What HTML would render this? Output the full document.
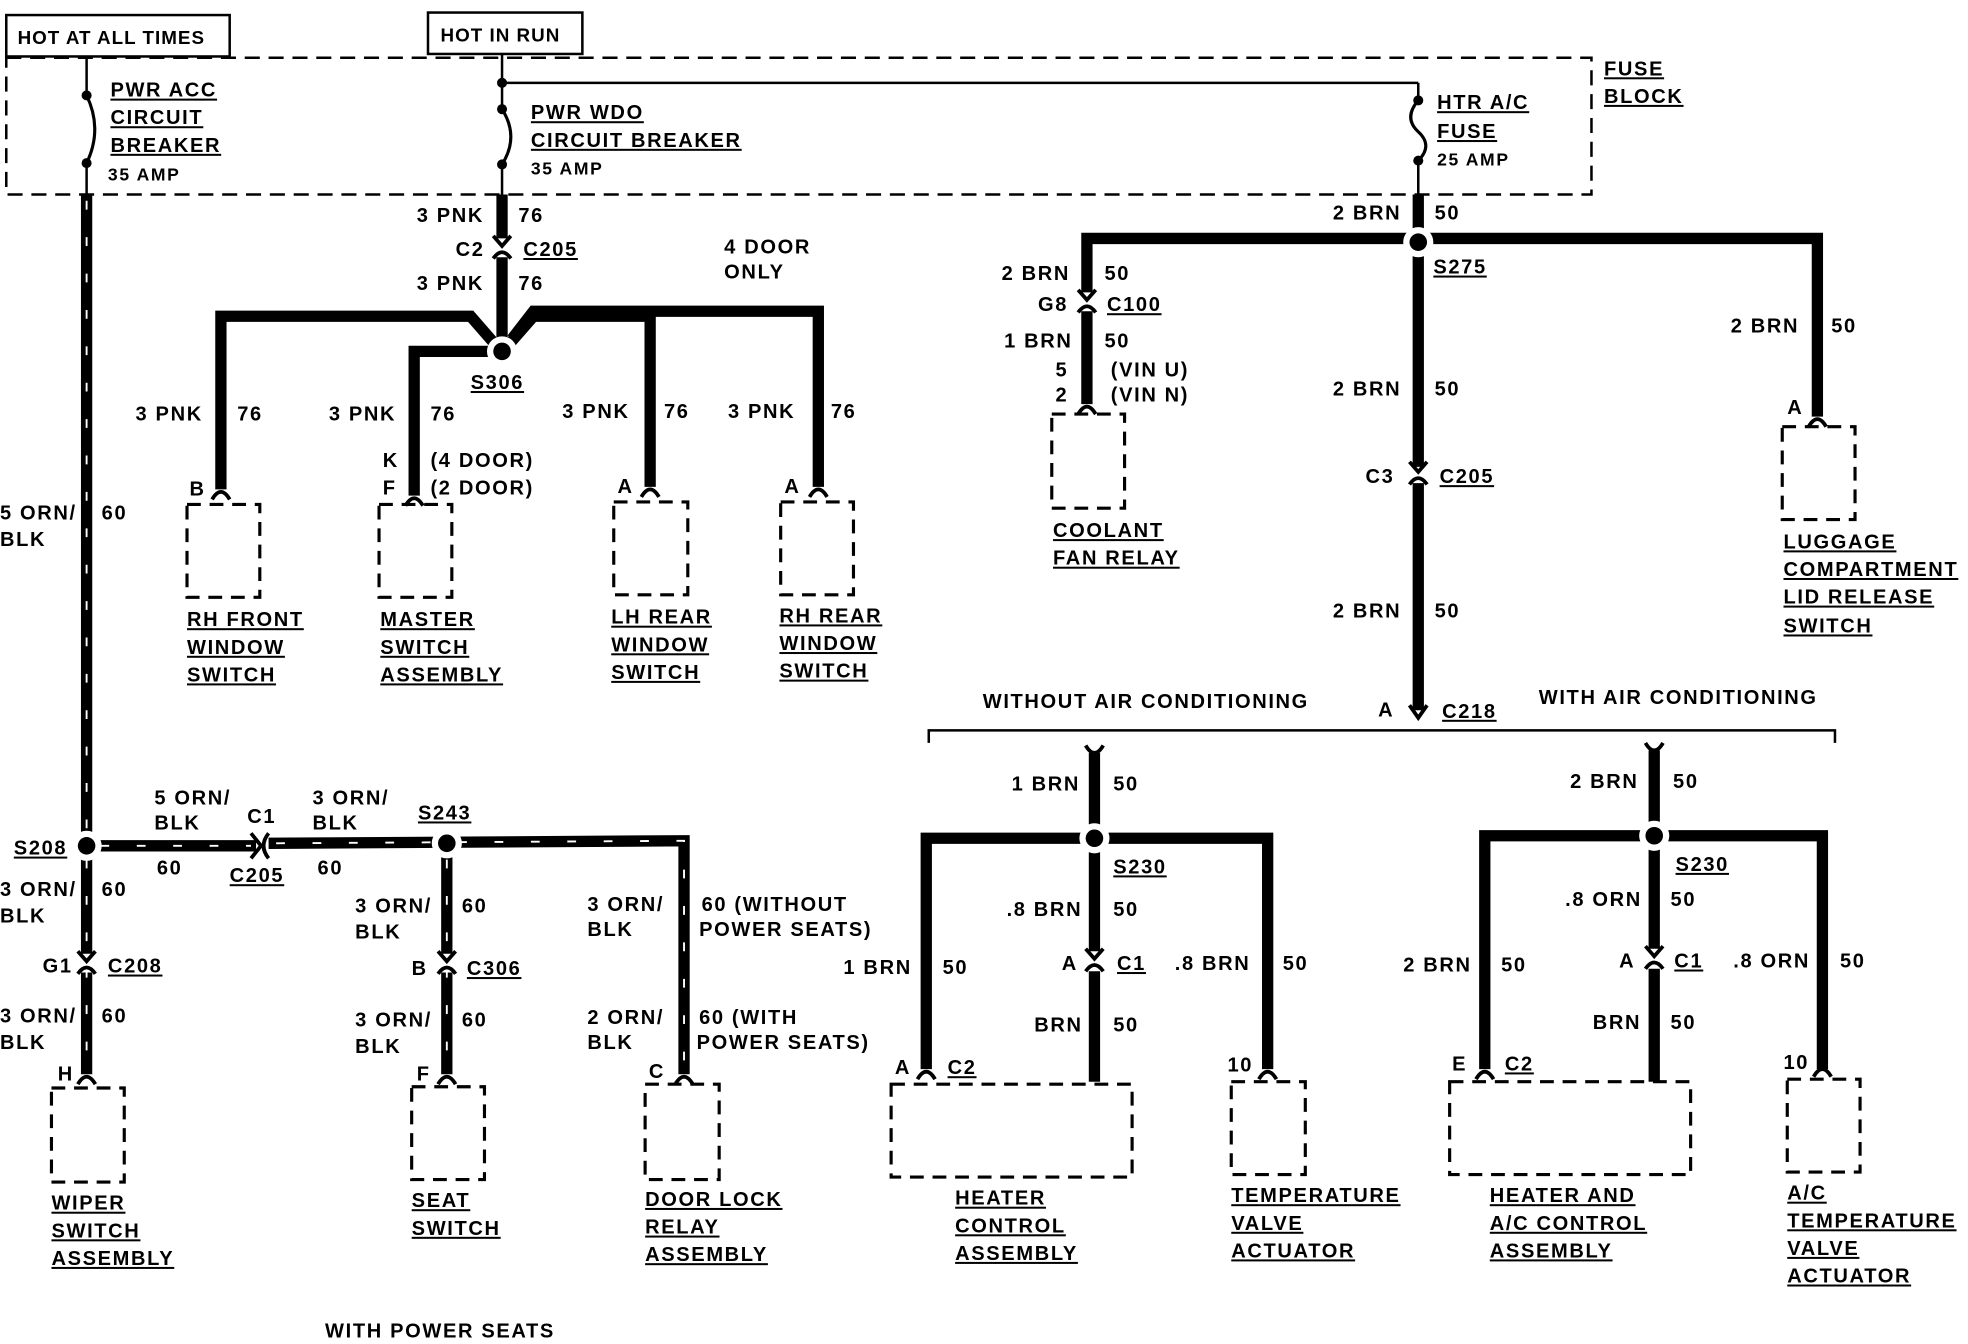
<!DOCTYPE html>
<html><head><meta charset="utf-8"><style>
html,body{margin:0;padding:0;background:#fff;}
svg{display:block;}
text{font-family:"Liberation Sans",sans-serif;font-weight:bold;font-size:16px;fill:#000;letter-spacing:1.3px;}
.u{text-decoration:underline;}
</style></head><body>
<svg width="1968" height="1344" viewBox="0 0 1568 1071" preserveAspectRatio="none" xmlns="http://www.w3.org/2000/svg">
<defs>
<g id="cap"><path d="M-7 6 Q0 -6 7 6" stroke="#000" stroke-width="3" fill="none"/></g>
<g id="cup"><path d="M-7 -6 Q0 6 7 -6" stroke="#000" stroke-width="3" fill="none"/></g>
<g id="conn"><path d="M-7 -10 L0 -2 L7 -10" stroke="#000" stroke-width="3" fill="none"/><path d="M-7 8 Q0 -2 7 8" stroke="#000" stroke-width="3" fill="none"/></g>
<g id="dot"><circle r="12" fill="#fff"/><circle r="7" fill="#000"/></g>
</defs>
<g fill="none" stroke="#000">
<rect x="5" y="12" width="178" height="33" stroke-width="2"/>
<rect x="341" y="10" width="123" height="33" stroke-width="2"/>
<rect x="5" y="46" width="1263" height="109" stroke-width="2" stroke-dasharray="12 7"/>
<line x1="69" y1="45" x2="69" y2="76" stroke-width="2"/>
<path d="M69 76 Q82 103 69 130" stroke-width="2.5"/>
<line x1="69" y1="130" x2="69" y2="160" stroke-width="2"/>
<line x1="400" y1="43" x2="400" y2="87" stroke-width="2"/>
<line x1="400" y1="66" x2="1130" y2="66" stroke-width="2"/>
<path d="M400 87 Q414 109 400 131" stroke-width="2.5"/>
<line x1="400" y1="131" x2="400" y2="155" stroke-width="2"/>
<line x1="1130" y1="66" x2="1130" y2="80" stroke-width="2"/>
<path d="M1130 80 Q1118 94 1130 105 Q1142 116 1130 128" stroke-width="2.5"/>
<line x1="1130" y1="128" x2="1130" y2="155" stroke-width="2"/>
</g>
<g fill="#000"><circle cx="69" cy="76" r="4"/><circle cx="69" cy="130" r="4"/><circle cx="400" cy="66" r="4"/><circle cx="400" cy="87" r="4"/><circle cx="400" cy="131" r="4"/><circle cx="1130" cy="80" r="4"/><circle cx="1130" cy="128" r="4"/></g>

<g fill="none" stroke="#000" stroke-width="9">
<line x1="400" y1="155" x2="400" y2="190"/>
<line x1="400" y1="205" x2="400" y2="280"/>
<path d="M395 275 L375 252 L176 252 L176 390"/>
<path d="M395 280 L330 280 L330 395"/>
<path d="M405 275 L425 252 L518 252 L518 388"/>
<path d="M408 270 L425 248 L652 248 L652 388"/>
<line x1="1130" y1="155" x2="1130" y2="372"/>
<line x1="1130" y1="385" x2="1130" y2="566"/>
<path d="M1130 190 L866 190 L866 233"/>
<line x1="866" y1="248" x2="866" y2="322"/>
<path d="M1130 190 L1448 190 L1448 332"/>
<line x1="872" y1="600" x2="872" y2="758"/>
<line x1="872" y1="774" x2="872" y2="862"/>
<path d="M872 668 L738 668 L738 852"/>
<path d="M872 668 L1010 668 L1010 852"/>
<line x1="1318" y1="598" x2="1318" y2="756"/>
<line x1="1318" y1="772" x2="1318" y2="862"/>
<path d="M1318 666 L1183 666 L1183 852"/>
<path d="M1318 666 L1452 666 L1452 852"/>
<line x1="69" y1="155" x2="69" y2="674"/>
<line x1="69" y1="674" x2="69" y2="760"/>
<line x1="69" y1="775" x2="69" y2="856"/>
<line x1="69" y1="674" x2="204" y2="674"/>
<path d="M214 672 L545 670 L545 856"/>
<line x1="356" y1="672" x2="356" y2="760"/>
<line x1="356" y1="775" x2="356" y2="856"/>
</g>
<g fill="none" stroke="#fff" stroke-width="1.5" stroke-dasharray="7 22">
<line x1="69" y1="160" x2="69" y2="665"/>
<line x1="69" y1="685" x2="69" y2="850"/>
<line x1="80" y1="674" x2="200" y2="674"/>
<path d="M220 672 L545 670 L545 850"/>
<line x1="356" y1="685" x2="356" y2="850"/>
</g>
<path d="M740 592 L740 582 L1462 582 L1462 592" fill="none" stroke="#000" stroke-width="2"/>
<path d="M200 664 L208 674 L200 684" fill="none" stroke="#000" stroke-width="3"/>
<path d="M214 664 Q206 674 214 684" fill="none" stroke="#000" stroke-width="3"/>
<use href="#conn" x="400" y="198"/>
<use href="#conn" x="866" y="241"/>
<use href="#conn" x="1130" y="378"/>
<use href="#conn" x="872" y="766"/>
<use href="#conn" x="1318" y="764"/>
<use href="#conn" x="69" y="768"/>
<use href="#conn" x="356" y="768"/>
<path d="M1123 562 L1130 572 L1137 562" fill="none" stroke="#000" stroke-width="3"/>
<use href="#cup" x="872" y="600"/>
<use href="#cup" x="1318" y="598"/>
<use href="#cap" x="176" y="392"/><use href="#cap" x="330" y="397"/><use href="#cap" x="518" y="390"/><use href="#cap" x="652" y="390"/>
<use href="#cap" x="866" y="324"/><use href="#cap" x="1448" y="334"/>
<use href="#cap" x="738" y="854"/><use href="#cap" x="1010" y="854"/><use href="#cap" x="1183" y="854"/><use href="#cap" x="1452" y="852"/>
<use href="#cap" x="69" y="858"/><use href="#cap" x="356" y="858"/><use href="#cap" x="545" y="858"/>
<use href="#dot" x="400" y="280"/><use href="#dot" x="1130" y="193"/><use href="#dot" x="872" y="668"/><use href="#dot" x="1318" y="666"/>
<use href="#dot" x="69" y="674"/><use href="#dot" x="356" y="672"/>
<g fill="none" stroke="#000" stroke-width="2.5" stroke-dasharray="11 7">
<rect x="149" y="402" width="58" height="74"/>
<rect x="302" y="402" width="58" height="74"/>
<rect x="489" y="400" width="59" height="74"/>
<rect x="622" y="400" width="58" height="74"/>
<rect x="838" y="330" width="58" height="75"/>
<rect x="1420" y="340" width="58" height="74"/>
<rect x="710" y="864" width="192" height="74"/>
<rect x="981" y="862" width="59" height="74"/>
<rect x="1155" y="862" width="192" height="74"/>
<rect x="1424" y="860" width="58" height="74"/>
<rect x="41" y="867" width="58" height="75"/>
<rect x="328" y="866" width="58" height="74"/>
<rect x="514" y="864" width="59" height="76"/>
</g>

<text x="14" y="35" style="font-size:15px;letter-spacing:0.8px">HOT AT ALL TIMES</text>
<text x="351" y="33" style="font-size:15px;letter-spacing:0.8px">HOT IN RUN</text>
<text x="1278" y="60" class="u">FUSE</text><text x="1278" y="82" class="u">BLOCK</text>
<text x="88" y="77" class="u">PWR ACC</text><text x="88" y="99" class="u">CIRCUIT</text><text x="88" y="121" class="u">BREAKER</text><text x="86" y="144" style="font-size:14px">35 AMP</text>
<text x="423" y="95" class="u">PWR WDO</text><text x="423" y="117" class="u">CIRCUIT BREAKER</text><text x="423" y="139" style="font-size:14px">35 AMP</text>
<text x="1145" y="87" class="u">HTR A/C</text><text x="1145" y="110" class="u">FUSE</text><text x="1145" y="132" style="font-size:14px">25 AMP</text>

<text x="332" y="177">3 PNK</text><text x="413" y="177">76</text>
<text x="363" y="204">C2</text><text x="417" y="204" class="u">C205</text>
<text x="332" y="231">3 PNK</text><text x="413" y="231">76</text>
<text x="577" y="202">4 DOOR</text><text x="577" y="222">ONLY</text>
<text x="375" y="310" class="u">S306</text>
<text x="108" y="335">3 PNK</text><text x="189" y="335">76</text>
<text x="262" y="335">3 PNK</text><text x="343" y="335">76</text>
<text x="448" y="333">3 PNK</text><text x="529" y="333">76</text>
<text x="580" y="333">3 PNK</text><text x="662" y="333">76</text>
<text x="151" y="395">B</text>
<text x="305" y="372">K</text><text x="343" y="372">(4 DOOR)</text>
<text x="305" y="394">F</text><text x="343" y="394">(2 DOOR)</text>
<text x="492" y="393">A</text><text x="625" y="393">A</text>
<text x="149" y="499" class="u">RH FRONT</text><text x="149" y="521" class="u">WINDOW</text><text x="149" y="543" class="u">SWITCH</text>
<text x="303" y="499" class="u">MASTER</text><text x="303" y="521" class="u">SWITCH</text><text x="303" y="543" class="u">ASSEMBLY</text>
<text x="487" y="497" class="u">LH REAR</text><text x="487" y="519" class="u">WINDOW</text><text x="487" y="541" class="u">SWITCH</text>
<text x="621" y="496" class="u">RH REAR</text><text x="621" y="518" class="u">WINDOW</text><text x="621" y="540" class="u">SWITCH</text>

<text x="1062" y="175">2 BRN</text><text x="1143" y="175">50</text>
<text x="1142" y="218" class="u">S275</text>
<text x="798" y="223">2 BRN</text><text x="880" y="223">50</text>
<text x="827" y="248">G8</text><text x="882" y="248" class="u">C100</text>
<text x="800" y="277">1 BRN</text><text x="880" y="277">50</text>
<text x="841" y="300">5</text><text x="885" y="300">(VIN U)</text>
<text x="841" y="320">2</text><text x="885" y="320">(VIN N)</text>
<text x="839" y="428" class="u">COOLANT</text><text x="839" y="450" class="u">FAN RELAY</text>
<text x="1379" y="265">2 BRN</text><text x="1459" y="265">50</text>
<text x="1424" y="330">A</text>
<text x="1421" y="437" class="u">LUGGAGE</text><text x="1421" y="459" class="u">COMPARTMENT</text><text x="1421" y="481" class="u">LID RELEASE</text><text x="1421" y="504" class="u">SWITCH</text>
<text x="1062" y="315">2 BRN</text><text x="1143" y="315">50</text>
<text x="1088" y="385">C3</text><text x="1147" y="385" class="u">C205</text>
<text x="1062" y="492">2 BRN</text><text x="1143" y="492">50</text>
<text x="783" y="564">WITHOUT AIR CONDITIONING</text>
<text x="1226" y="561">WITH AIR CONDITIONING</text>
<text x="1098" y="571">A</text><text x="1149" y="572" class="u">C218</text>

<text x="806" y="630">1 BRN</text><text x="887" y="630">50</text>
<text x="887" y="696" class="u">S230</text>
<text x="802" y="730">.8 BRN</text><text x="887" y="730">50</text>
<text x="846" y="773">A</text><text x="890" y="773" class="u">C1</text>
<text x="672" y="776">1 BRN</text><text x="751" y="776">50</text>
<text x="936" y="773">.8 BRN</text><text x="1022" y="773">50</text>
<text x="824" y="822">BRN</text><text x="887" y="822">50</text>
<text x="713" y="856">A</text><text x="755" y="856" class="u">C2</text>
<text x="978" y="854">10</text>
<text x="761" y="960" class="u">HEATER</text><text x="761" y="982" class="u">CONTROL</text><text x="761" y="1004" class="u">ASSEMBLY</text>
<text x="981" y="958" class="u">TEMPERATURE</text><text x="981" y="980" class="u">VALVE</text><text x="981" y="1002" class="u">ACTUATOR</text>

<text x="1251" y="628">2 BRN</text><text x="1333" y="628">50</text>
<text x="1335" y="694" class="u">S230</text>
<text x="1247" y="722">.8 ORN</text><text x="1331" y="722">50</text>
<text x="1290" y="771">A</text><text x="1334" y="771" class="u">C1</text>
<text x="1118" y="774">2 BRN</text><text x="1196" y="774">50</text>
<text x="1381" y="771">.8 ORN</text><text x="1466" y="771">50</text>
<text x="1269" y="820">BRN</text><text x="1331" y="820">50</text>
<text x="1157" y="853">E</text><text x="1199" y="853" class="u">C2</text>
<text x="1421" y="852">10</text>
<text x="1187" y="958" class="u">HEATER AND</text><text x="1187" y="980" class="u">A/C CONTROL</text><text x="1187" y="1002" class="u">ASSEMBLY</text>
<text x="1424" y="956" class="u">A/C</text><text x="1424" y="978" class="u">TEMPERATURE</text><text x="1424" y="1000" class="u">VALVE</text><text x="1424" y="1022" class="u">ACTUATOR</text>

<text x="0" y="414">5 ORN/</text><text x="0" y="435">BLK</text><text x="81" y="414">60</text>
<text x="11" y="681" class="u">S208</text>
<text x="123" y="641">5 ORN/</text><text x="123" y="661">BLK</text>
<text x="197" y="656">C1</text>
<text x="249" y="641">3 ORN/</text><text x="249" y="661">BLK</text>
<text x="333" y="653" class="u">S243</text>
<text x="125" y="697">60</text><text x="183" y="703" class="u">C205</text><text x="253" y="697">60</text>
<text x="0" y="714">3 ORN/</text><text x="0" y="735">BLK</text><text x="81" y="714">60</text>
<text x="34" y="775">G1</text><text x="86" y="775" class="u">C208</text>
<text x="0" y="815">3 ORN/</text><text x="0" y="836">BLK</text><text x="81" y="815">60</text>
<text x="46" y="861">H</text>
<text x="283" y="727">3 ORN/</text><text x="283" y="748">BLK</text><text x="368" y="727">60</text>
<text x="328" y="777">B</text><text x="372" y="777" class="u">C306</text>
<text x="283" y="818">3 ORN/</text><text x="283" y="839">BLK</text><text x="368" y="818">60</text>
<text x="332" y="861">F</text>
<text x="468" y="726">3 ORN/</text><text x="468" y="746">BLK</text><text x="559" y="726">60 (WITHOUT</text><text x="557" y="746">POWER SEATS)</text>
<text x="468" y="816">2 ORN/</text><text x="468" y="836">BLK</text><text x="557" y="816">60 (WITH</text><text x="555" y="836">POWER SEATS)</text>
<text x="517" y="859">C</text>
<text x="41" y="964" class="u">WIPER</text><text x="41" y="986" class="u">SWITCH</text><text x="41" y="1008" class="u">ASSEMBLY</text>
<text x="328" y="962" class="u">SEAT</text><text x="328" y="984" class="u">SWITCH</text>
<text x="514" y="961" class="u">DOOR LOCK</text><text x="514" y="983" class="u">RELAY</text><text x="514" y="1005" class="u">ASSEMBLY</text>
<text x="259" y="1066">WITH POWER SEATS</text>
</svg>
</body></html>
